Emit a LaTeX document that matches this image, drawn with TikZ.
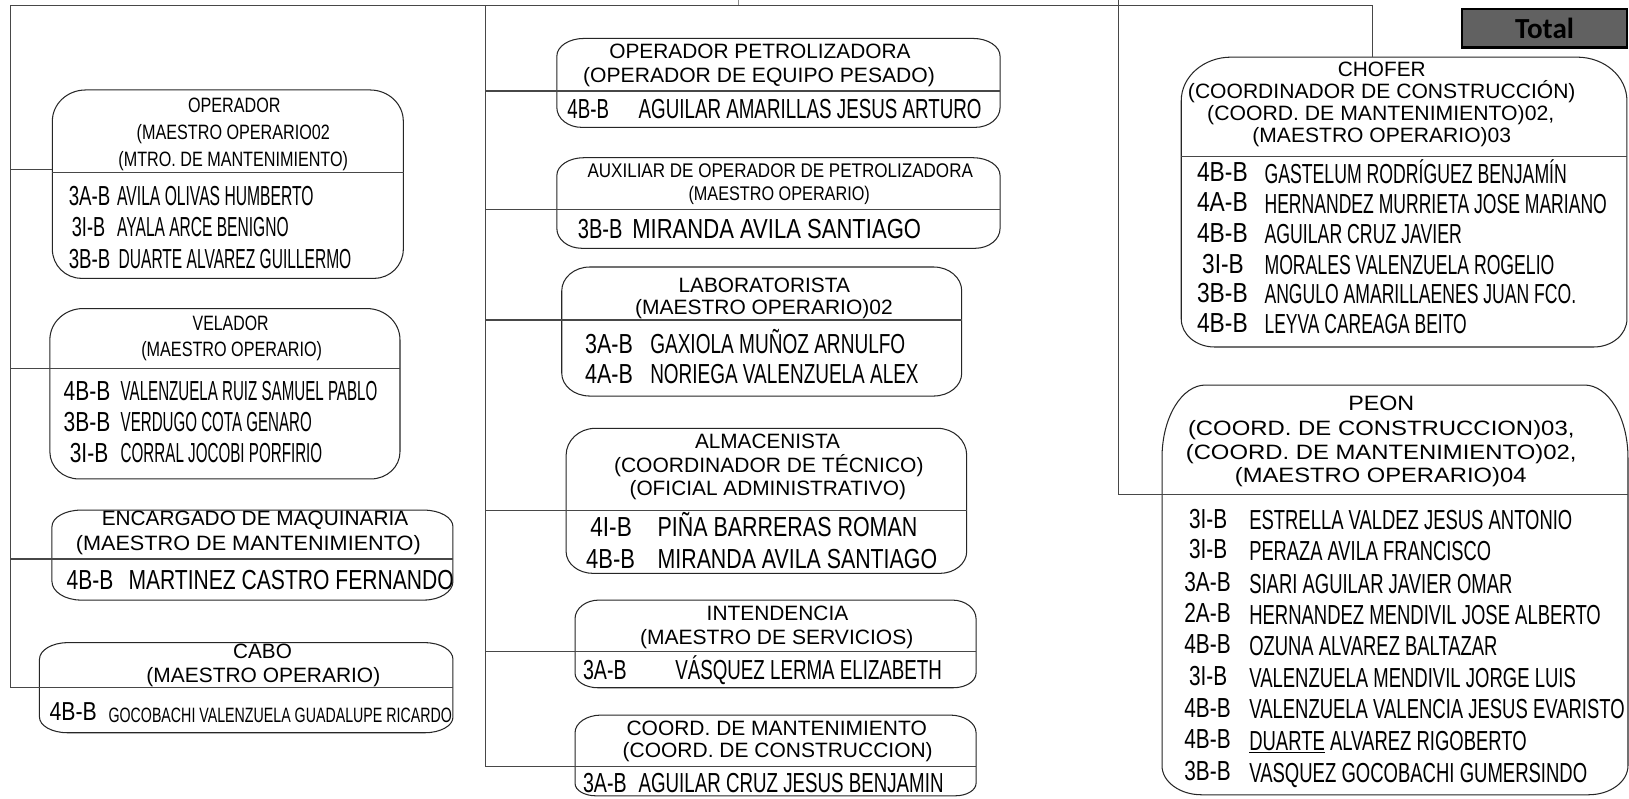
\documentclass[tikz,border=0pt]{standalone}
\usepackage{fontspec}
\setmainfont{Liberation Sans}
\newfontfamily\totfont{Carlito}
\usepackage{graphicx}
\usetikzlibrary{fit}
\newcounter{tn}
\tikzset{
  txt/.style={inner sep=0pt, text=black},
  conn/.style={draw=black!72, line width=1.1pt},
  boxline/.style={draw=black!85, line width=1pt},
}
% centred text line: x centre, y centre, size, width, text
\newcommand\ctx[5]{\stepcounter{tn}\node[txt,anchor=base,font=\fontsize{#3}{#3}\selectfont] (t\arabic{tn}) at (#1,{#2+0.358*#3}) {\resizebox{#4pt}{\height}{#5}};}
% left aligned text line: x left, y centre, size, width, text
\newcommand\ltx[5]{\stepcounter{tn}\node[txt,anchor=base west,font=\fontsize{#3}{#3}\selectfont] (t\arabic{tn}) at (#1,{#2+0.358*#3}) {\resizebox{#4pt}{\height}{#5}};}
% box with elliptical corners: name, x1, y1, x2, y2, rx top, ry top, rx bottom, ry bottom
\newcommand\ovbox[9]{%
  \draw[boxline] (#2,{#3+#7}) .. controls (#2,{#3+0.4477*#7}) and ({#2+0.4477*#6},#3) .. ({#2+#6},#3)
    -- ({#4-#6},#3) .. controls ({#4-0.4477*#6},#3) and (#4,{#3+0.4477*#7}) .. (#4,{#3+#7})
    -- (#4,{#5-#9}) .. controls (#4,{#5-0.4477*#9}) and ({#4-0.4477*#8},#5) .. ({#4-#8},#5)
    -- ({#2+#8},#5) .. controls ({#2+0.4477*#8},#5) and (#2,{#5-0.4477*#9}) .. (#2,{#5-#9}) -- cycle;
  \coordinate (#1-a) at (#2,#3); \coordinate (#1-b) at (#4,#5);
  \node[fit=(#1-a)(#1-b), inner sep=0pt] (#1) {};}

\begin{document}
\begin{tikzpicture}[x=1pt,y=-1pt]
\useasboundingbox (0,0) rectangle (1568,768.2);
\fill[white] (0,0) rectangle (1568,768.2);

% ---------- boxes ----------
\ovbox{bop}{50.4}{86.6}{388.2}{267.9}{32}{30}{28}{28}
\ovbox{bve}{48}{297}{385}{461}{32}{30}{28}{26}
\ovbox{ben}{50}{491}{436}{577.6}{28}{16}{28}{18}
\ovbox{bca}{38}{618.6}{436}{705.3}{27}{16}{27}{15}
\ovbox{bpd}{536}{37}{962.6}{122.6}{26}{17}{24}{19}
\ovbox{bax}{536}{151.8}{962.6}{239}{26}{17}{24}{19}
\ovbox{blb}{540.7}{257}{925.7}{381.2}{27}{23}{27}{22}
\ovbox{bal}{544.9}{412.3}{930.5}{551.9}{28}{26}{26}{21}
\ovbox{bin}{553.5}{577.6}{939.5}{662}{23}{18}{22}{14}
\ovbox{bco}{553.5}{688.3}{939.5}{766}{25}{17}{20}{12}
\ovbox{bch}{1137}{55}{1566}{334}{48}{42}{32}{27}
\ovbox{bpe}{1118.5}{370.6}{1567}{765}{42}{70}{38}{28}

% ---------- connectors ----------
\coordinate (tl) at (10,5);
\coordinate (tm) at (467,5);
\coordinate (tk) at (711,0);
\coordinate (tr) at (1321,5);
\coordinate (rt) at (1077,0);
\coordinate (jL1) at (10,163);
\coordinate (dop) at (50.4,166);
\coordinate (jL2) at (10,355);
\coordinate (jL3) at (10,538);
\coordinate (jL4) at (10,662);
\coordinate (jM1) at (467,87.6);
\coordinate (jM2) at (467,202);
\coordinate (jM3) at (467,308);
\coordinate (jM4) at (467,491);
\coordinate (jM5) at (467,627.3);
\coordinate (jM6) at (467,738);
\coordinate (jR) at (1077,475.6);
\coordinate (dch) at (1137,151);

\draw[conn] (tl) -- (tr) -- (tr |- bch.north);
\draw[conn, draw=black!45] (tk) -- (tk |- tl);
\draw[conn] (tl) -- (jL4);
\draw[conn] (tm) -- (jM6);
\draw[conn] (rt) -- (jR) -- (jR -| bpe.east);
\draw[conn] (jL1) -- (jL1 -| bop.west);
\draw[conn] (dop) -- (dop -| bop.east);
\draw[conn] (jL2) -- (jL2 -| bve.east);
\draw[conn] (jL3) -- (jL3 -| ben.east);
\draw[conn] (jL4) -- (jL4 -| bca.east);
\draw[conn] (jM1) -- (jM1 -| bpd.east);
\draw[conn] (jM2) -- (jM2 -| bax.east);
\draw[conn] (jM3) -- (jM3 -| blb.east);
\draw[conn] (jM4) -- (jM4 -| bal.east);
\draw[conn] (jM5) -- (jM5 -| bin.east);
\draw[conn] (jM6) -- (jM6 -| bco.east);
\draw[conn] (dch) -- (dch -| bch.east);

% ---------- Total ----------
\node[draw=black, line width=2pt, fill=black!62, minimum width=159pt, minimum height=37pt, inner sep=0pt,
      font=\totfont\bfseries\fontsize{28}{28}\selectfont] (tot) at (1486.75,27.25) {Total};

% ---------- left column ----------
\ctx{225.5}{101}{20}{89}{OPERADOR}
\ctx{224.6}{127}{20}{186}{(MAESTRO OPERARIO02}
\ctx{224.5}{153}{20}{221}{(MTRO. DE MANTENIMIENTO)}
\ltx{66}{188}{26.5}{40}{3A-B}\ltx{112.6}{188}{26.5}{189}{AVILA OLIVAS HUMBERTO}
\ltx{69}{218}{26.5}{32}{3I-B}\ltx{112.6}{218}{26.5}{165}{AYALA ARCE BENIGNO}
\ltx{66}{249}{26.5}{40}{3B-B}\ltx{114}{249}{26.5}{224}{DUARTE ALVAREZ GUILLERMO}

\ctx{222}{311}{20}{73}{VELADOR}
\ctx{223}{336}{20}{174}{(MAESTRO OPERARIO)}
\ltx{61}{376}{26.5}{45}{4B-B}\ltx{116}{376}{26.5}{247}{VALENZUELA RUIZ SAMUEL PABLO}
\ltx{61}{406}{26.5}{45}{3B-B}\ltx{116}{406}{26.5}{184}{VERDUGO COTA GENARO}
\ltx{67}{436}{26.5}{37}{3I-B}\ltx{116}{436}{26.5}{194}{CORRAL JOCOBI PORFIRIO}

\ctx{245.5}{499}{20}{295}{ENCARGADO DE MAQUINARIA}
\ctx{239}{523}{20}{332}{(MAESTRO DE MANTENIMIENTO)}
\ltx{64}{558}{26.5}{45}{4B-B}\ltx{123.5}{558}{26.5}{313}{MARTINEZ CASTRO FERNANDO}

\ctx{252.7}{627}{20}{56.5}{CABO}
\ctx{253.5}{650}{20}{225}{(MAESTRO OPERARIO)}
\ltx{47.5}{685}{25}{45.5}{4B-B}\ltx{104.3}{688}{20}{330.5}{GOCOBACHI VALENZUELA GUADALUPE RICARDO}

% ---------- middle column ----------
\ctx{731.5}{49}{20}{290}{OPERADOR PETROLIZADORA}
\ctx{730.6}{72}{20}{338.5}{(OPERADOR DE EQUIPO PESADO)}
\ltx{546}{105}{26.5}{40}{4B-B}\ltx{614.6}{105}{26.5}{330}{AGUILAR AMARILLAS JESUS ARTURO}

\ctx{751}{164}{19}{371}{AUXILIAR DE OPERADOR DE PETROLIZADORA}
\ctx{750}{186}{19}{174.5}{(MAESTRO OPERARIO)}
\ltx{556}{220.5}{26.5}{43}{3B-B}\ltx{608.4}{220.5}{26.5}{278}{MIRANDA AVILA SANTIAGO}

\ctx{735.6}{274}{20}{165}{LABORATORISTA}
\ctx{735.3}{296}{20}{248}{(MAESTRO OPERARIO)02}
\ltx{563}{330.5}{26.5}{46}{3A-B}\ltx{625.7}{330.5}{26.5}{245.5}{GAXIOLA MUÑOZ ARNULFO}
\ltx{563}{360}{26.5}{46}{4A-B}\ltx{625.7}{360}{26.5}{258.3}{NORIEGA VALENZUELA ALEX}

\ctx{738.8}{425}{20}{139.6}{ALMACENISTA}
\ctx{740}{448}{20}{298}{(COORDINADOR DE TÉCNICO)}
\ctx{739}{469.5}{20}{266}{(OFICIAL ADMINISTRATIVO)}
\ltx{568}{507}{26.5}{40}{4I-B}\ltx{632.8}{507}{26.5}{250}{PIÑA BARRERAS ROMAN}
\ltx{564}{537.5}{26.5}{47}{4B-B}\ltx{632.8}{537.5}{26.5}{269}{MIRANDA AVILA SANTIAGO}

\ctx{748.4}{590.4}{20}{136.3}{INTENDENCIA}
\ctx{747.6}{612.9}{20}{263}{(MAESTRO DE SERVICIOS)}
\ltx{561}{645}{26.5}{42}{3A-B}\ltx{649.8}{645}{26.5}{256.7}{VÁSQUEZ LERMA ELIZABETH}

\ctx{747.6}{701}{20}{289}{COORD. DE MANTENIMIENTO}
\ctx{748.6}{722}{20}{298.4}{(COORD. DE CONSTRUCCION)}
\ltx{561}{753}{26.5}{42}{3A-B}\ltx{614.5}{753}{26.5}{293.5}{AGUILAR CRUZ JESUS BENJAMIN}

% ---------- right column ----------
\ctx{1330}{66}{20}{84.5}{CHOFER}
\ctx{1330}{88}{20}{373}{(COORDINADOR DE CONSTRUCCIÓN)}
\ctx{1329}{109}{20}{334}{(COORD. DE MANTENIMIENTO)02,}
\ctx{1330}{130}{20}{249}{(MAESTRO OPERARIO)03}
\ltx{1152}{165.5}{26.5}{48.8}{4B-B}\ltx{1217}{167}{26.5}{291}{GASTELUM RODRÍGUEZ BENJAMÍN}
\ltx{1152}{194.5}{26.5}{48.8}{4A-B}\ltx{1217}{196}{26.5}{329.5}{HERNANDEZ MURRIETA JOSE MARIANO}
\ltx{1152}{223.5}{26.5}{48.8}{4B-B}\ltx{1217}{225}{26.5}{190}{AGUILAR CRUZ JAVIER}
\ltx{1157}{253.5}{26.5}{40}{3I-B}\ltx{1217}{255}{26.5}{279}{MORALES VALENZUELA ROGELIO}
\ltx{1152}{281.5}{26.5}{48.8}{3B-B}\ltx{1217}{283}{26.5}{300}{ANGULO AMARILLAENES JUAN FCO.}
\ltx{1152}{310.5}{26.5}{48.8}{4B-B}\ltx{1217}{312}{26.5}{194.6}{LEYVA CAREAGA BEITO}

\ctx{1329.5}{388.3}{20}{63.5}{PEON}
\ctx{1329.5}{412.3}{20}{372}{(COORD. DE CONSTRUCCION)03,}
\ctx{1329.4}{434.8}{20}{376}{(COORD. DE MANTENIMIENTO)02,}
\ctx{1329}{457.3}{20}{280.7}{(MAESTRO OPERARIO)04}
\ltx{1144.3}{499}{26.5}{36.7}{3I-B}\ltx{1202.3}{500.6}{26.5}{310.9}{ESTRELLA VALDEZ JESUS ANTONIO}
\ltx{1144.3}{528.5}{26.5}{36.7}{3I-B}\ltx{1202.3}{530}{26.5}{232.7}{PERAZA AVILA FRANCISCO}
\ltx{1139.8}{560}{26.5}{44.6}{3A-B}\ltx{1202.3}{561.6}{26.5}{253.3}{SIARI AGUILAR JAVIER OMAR}
\ltx{1139.8}{590}{26.5}{44.6}{2A-B}\ltx{1202.3}{591.5}{26.5}{338.4}{HERNANDEZ MENDIVIL JOSE ALBERTO}
\ltx{1139.8}{620}{26.5}{44.6}{4B-B}\ltx{1202.3}{621.5}{26.5}{238.9}{OZUNA ALVAREZ BALTAZAR}
\ltx{1144.3}{650.5}{26.5}{36.7}{3I-B}\ltx{1202.3}{652}{26.5}{314.4}{VALENZUELA MENDIVIL JORGE LUIS}
\ltx{1139.8}{681}{26.5}{44.6}{4B-B}\ltx{1202.3}{682.5}{26.5}{361.4}{VALENZUELA VALENCIA JESUS EVARISTO}
\ltx{1139.8}{711}{26.5}{44.6}{4B-B}\ltx{1202.3}{712.5}{26.5}{267}{\underline{DUARTE} ALVAREZ RIGOBERTO}
\ltx{1139.8}{742}{26.5}{44.6}{3B-B}\ltx{1202.3}{743.5}{26.5}{325.3}{VASQUEZ GOCOBACHI GUMERSINDO}
\end{tikzpicture}
\end{document}
